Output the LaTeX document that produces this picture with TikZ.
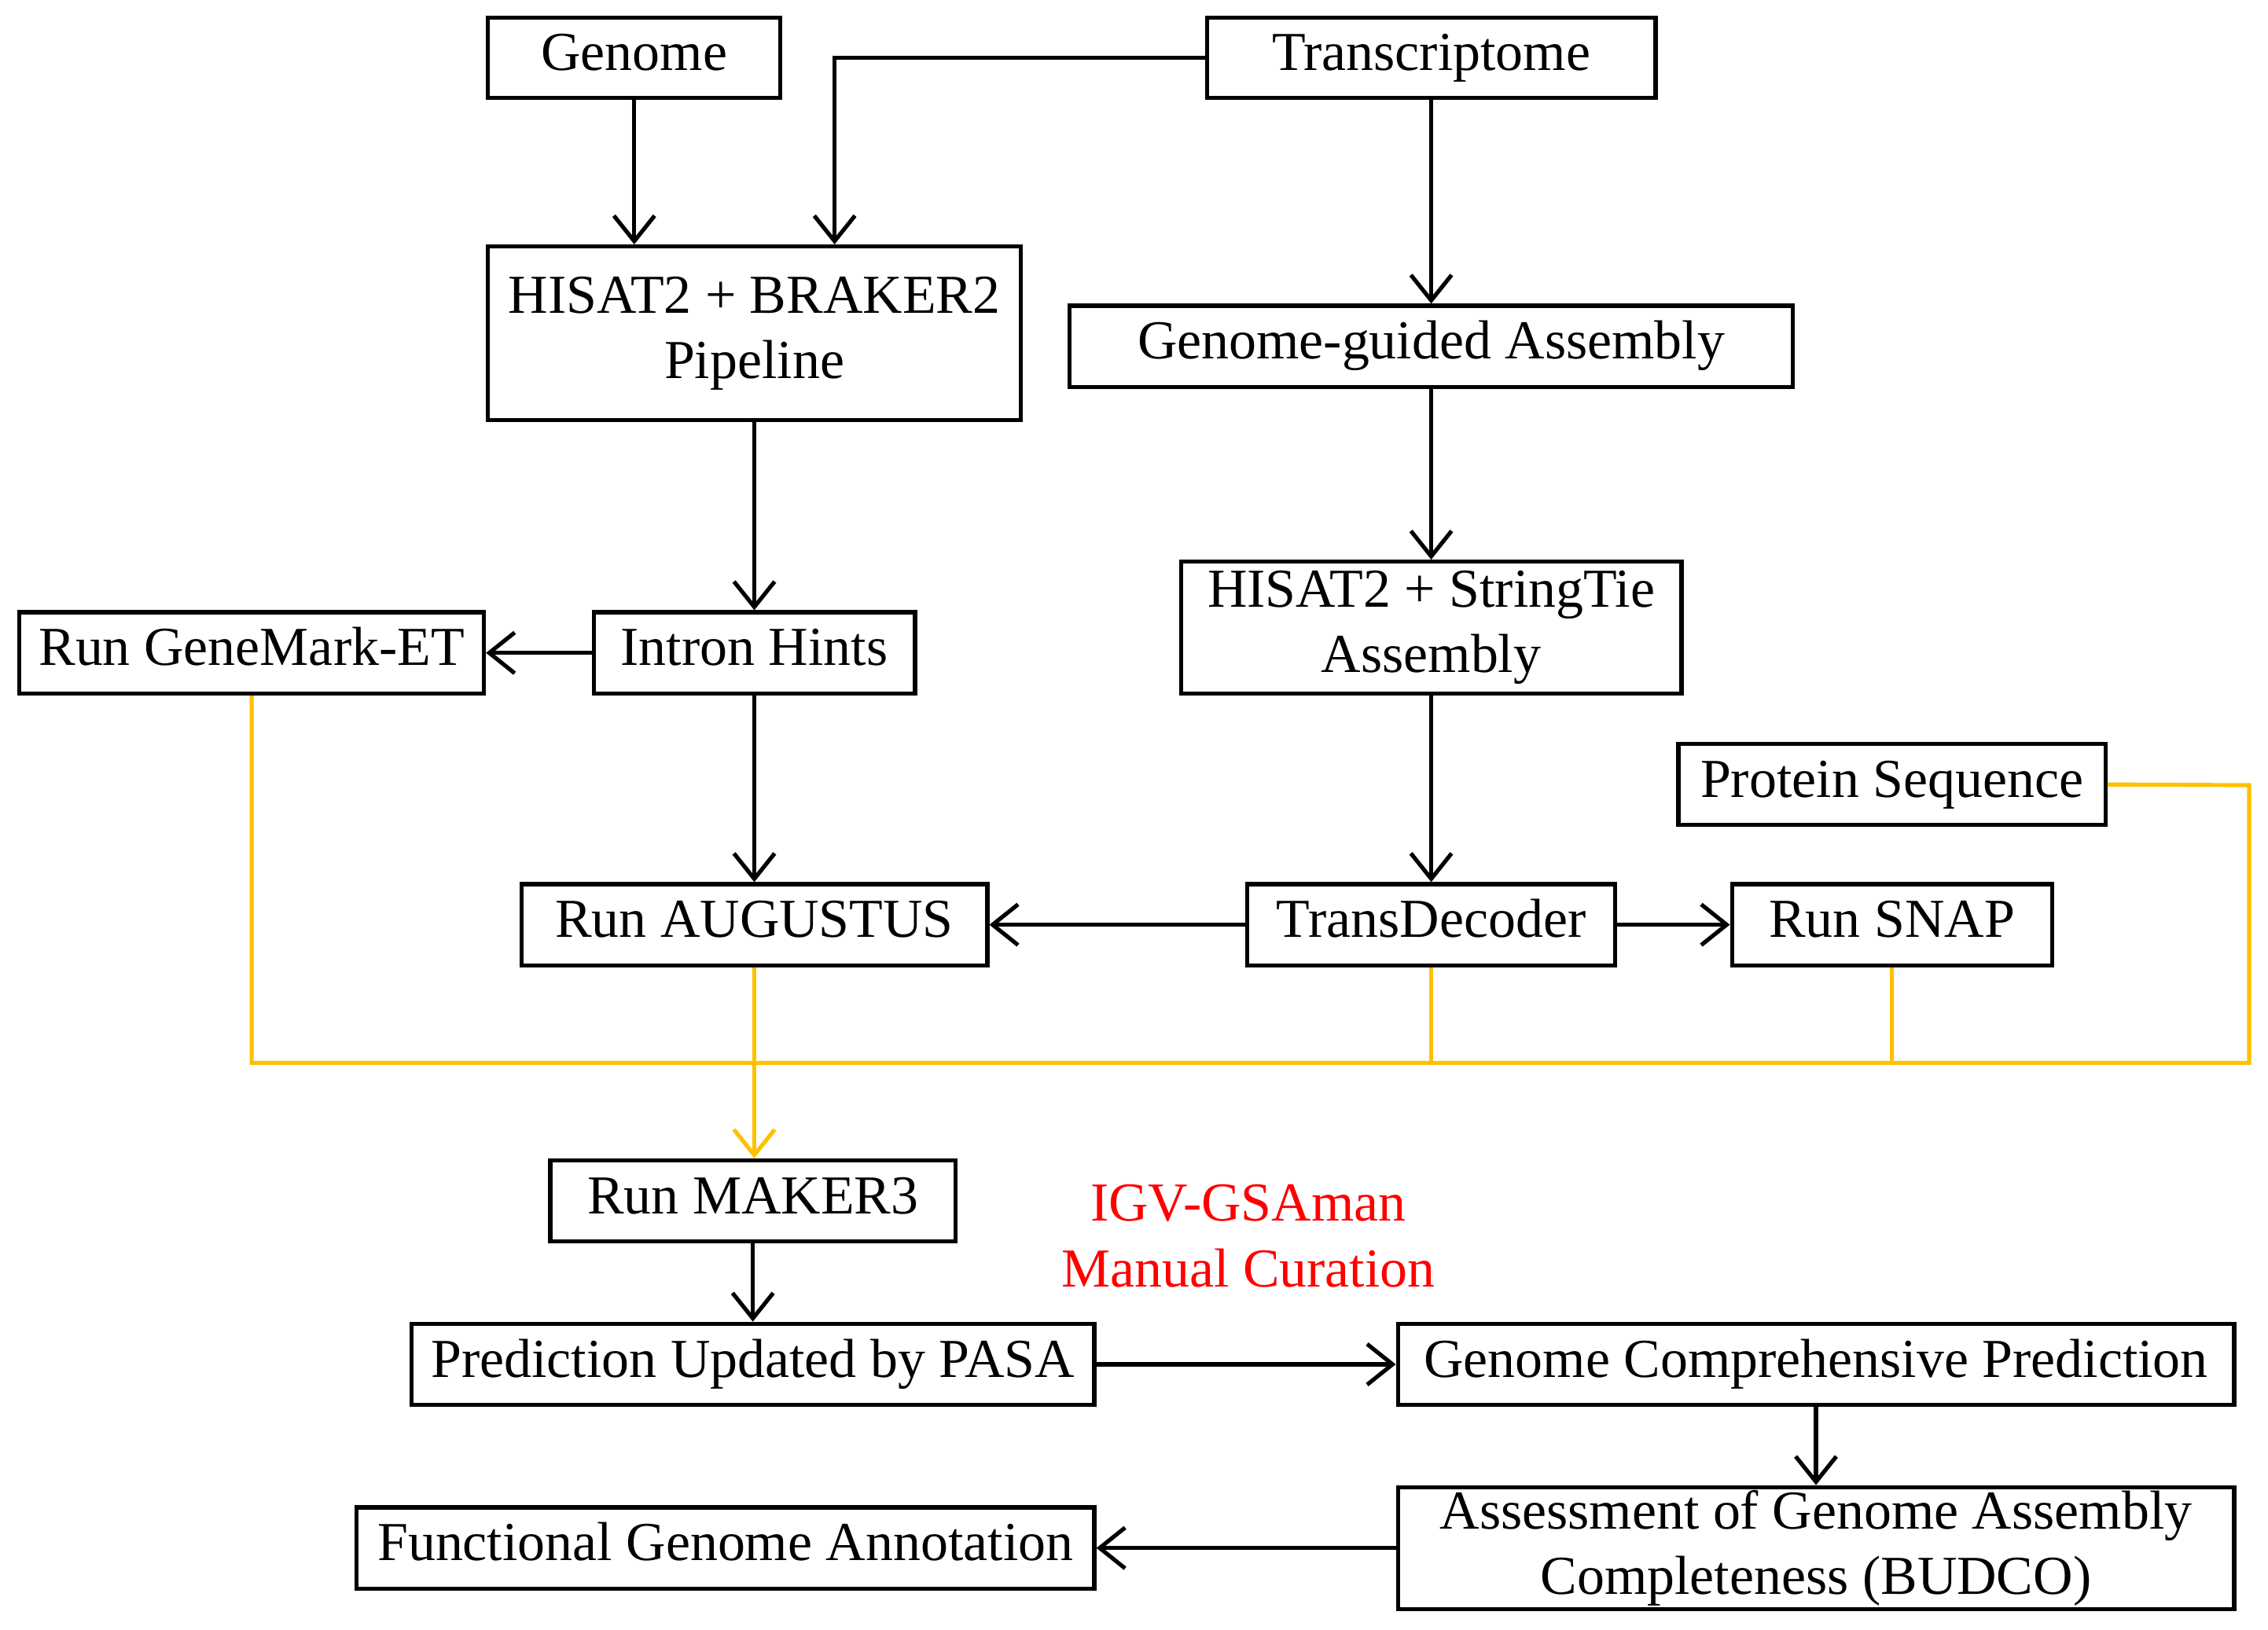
\documentclass[tikz,border=0pt]{standalone}
\usepackage{fontspec}
\setmainfont{Liberation Serif}
\usetikzlibrary{arrows.meta}
\definecolor{gold}{RGB}{255,192,0}
\begin{document}
\begin{tikzpicture}[x=0.01cm,y=-0.01cm,
  base/.style={draw,line width=0.8pt,inner sep=0pt,align=center,font=\fontsize{10.8}{12.8}\selectfont},
  box/.style={base,text height=0.72em,text depth=0.22em},
  box2/.style={base},
  ar/.style={line width=0.8pt,-{Straight Barb[length=5pt,width=8pt]}},
  yl/.style={line width=0.8pt,draw=gold}]
\useasboundingbox (0,0) rectangle (1568,1127);
\newcommand{\bx}[7][box]{\node[#1,minimum width=#5*0.01cm-0.8pt,minimum height=#6*0.01cm-0.8pt] (#2) at ({(#3+#5/2)},{(#4+#6/2)}) {#7};}
\bx{gen}{336}{11}{205}{58}{Genome}
\bx{tra}{833}{11}{313}{58}{Transcriptome}
\bx[box2]{hb}{336}{169}{371}{123}{HISAT2 + BRAKER2\\Pipeline}
\bx{gga}{738}{210}{503}{59}{Genome-guided Assembly}
\bx{ih}{409}{422}{225}{59}{Intron Hints}
\bx{gm}{12}{422}{324}{59}{Run GeneMark-ET}
\bx[box2]{hs}{815}{387}{349}{94}{HISAT2 + StringTie\\Assembly}
\bx{ps}{1159}{513}{298}{59}{Protein Sequence}
\bx{au}{359}{610}{325}{59}{Run AUGUSTUS}
\bx{td}{861}{610}{257}{59}{TransDecoder}
\bx{sn}{1196}{610}{224}{59}{Run SNAP}
\bx{mk}{379}{801}{283}{59}{Run MAKER3}
\bx{pu}{283}{914}{475}{59}{Prediction Updated by PASA}
\bx{gc}{965}{914}{581}{59}{Genome Comprehensive Prediction}
\bx[box2]{as}{965}{1027}{581}{87}{Assessment of Genome Assembly\\Completeness (BUDCO)}
\bx{fa}{245}{1041}{513}{59}{Functional Genome Annotation}
\node[align=center,text=red,font=\fontsize{10.8}{13}\selectfont] (igv) at (863,855) {IGV-GSAman\\Manual Curation};
\coordinate (j1) at (577,40);
\draw[ar] (gen.south) -- (gen.south|-hb.north);
\draw[ar] (tra.west) -- (j1) -- (j1|-hb.north);
\draw[ar] (tra.south) -- (gga.north);
\draw[ar] (gga.south) -- (hs.north);
\draw[ar] (hb.south) -- (ih.north);
\draw[ar] (ih.west) -- (gm.east);
\draw[ar] (ih.south) -- (au.north);
\draw[ar] (hs.south) -- (td.north);
\draw[ar] (td.west) -- (au.east);
\draw[ar] (td.east) -- (sn.west);
\coordinate (ya) at (174,735);
\coordinate (yb) at (1555,735);
\coordinate (yc) at (1555,543);
\draw[yl] (gm.south-|ya) -- (ya) -- (yb) -- (yc) -- (ps.east);
\draw[yl] (td.south) -- (td.south|-ya);
\draw[yl] (sn.south) -- (sn.south|-ya);
\draw[yl,ar,draw=gold] (au.south) -- (au.south|-mk.north);
\draw[ar] (mk.south) -- (mk.south|-pu.north);
\draw[ar] (pu.east) -- (gc.west);
\draw[ar] (gc.south) -- (as.north);
\draw[ar] (as.west) -- (fa.east);
\end{tikzpicture}
\end{document}
